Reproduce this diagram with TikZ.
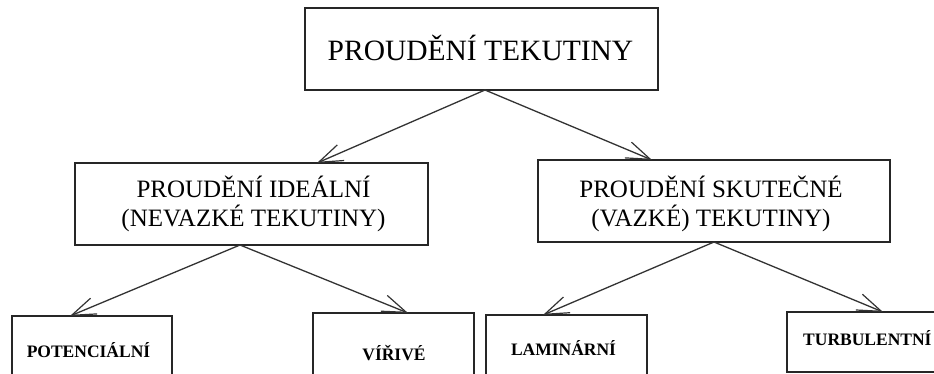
\documentclass[tikz,border=0pt]{standalone}
\usepackage{fontspec}
\setmainfont{Liberation Serif}
\usetikzlibrary{arrows.meta}
\begin{document}
\begin{tikzpicture}[x=1pt,y=-1pt,
  box/.style={draw=black!85,line width=1.3pt,rectangle,anchor=north west,inner sep=0pt,outer sep=0pt},
  conn/.style={draw=black!80,line width=1.3pt,-{Straight Barb[length=24pt,width=17pt,line width=1.2pt]}},
  bigtxt/.style={font=\fontsize{29.5}{30}\selectfont,anchor=base,inner sep=0pt},
  midtxt/.style={font=\fontsize{25}{29.5}\selectfont,anchor=base,align=center,inner sep=0pt},
  smalltxt/.style={font=\bfseries\fontsize{17.5}{18}\selectfont,anchor=base,inner sep=0pt}]
\useasboundingbox (0,0) rectangle (934,373);
\clip (0,0) rectangle (934,373);
\fill[white] (0,0) rectangle (934,373);
% boxes
\node[box,minimum width=353pt,minimum height=82pt] (top) at (305,8) {};
\node[box,minimum width=353pt,minimum height=82pt] (lmid) at (75,163) {};
\node[box,minimum width=352pt,minimum height=82pt] (rmid) at (538,160) {};
\node[box,minimum width=160pt,minimum height=80pt] (pot) at (12,316) {};
\node[box,minimum width=161pt,minimum height=80pt] (vir) at (313,313) {};
\node[box,minimum width=161pt,minimum height=80pt] (lam) at (486,315) {};
\node[box,minimum width=193pt,minimum height=60pt] (turb) at (787,312) {};
% texts
\node[bigtxt] (ttop) at (480.5,60) {PROUDĚNÍ TEKUTINY};
\node[midtxt] (tlmid) at (253.5,226.5) {PROUDĚNÍ IDEÁLNÍ\\(NEVAZKÉ TEKUTINY)};
\node[midtxt] (trmid) at (711,226.5) {PROUDĚNÍ SKUTEČNÉ\\(VAZKÉ) TEKUTINY)};
\node[smalltxt] (tpot) at (88.5,357) {POTENCIÁLNÍ};
\node[smalltxt] (tvir) at (394,360) {VÍŘIVÉ};
\node[smalltxt] (tlam) at (563.5,355) {LAMINÁRNÍ};
\node[smalltxt,anchor=base west] (tturb) at (803,345) {TURBULENTNÍ};
% connectors
\draw[conn] ([xshift=3.5pt]top.south) -- ([xshift=65.5pt]lmid.north);
\draw[conn] ([xshift=3.5pt]top.south) -- ([xshift=-62pt]rmid.north);
\draw[conn] ([xshift=-11.5pt]lmid.south) -- ([xshift=-22pt]pot.north);
\draw[conn] ([xshift=-11.5pt]lmid.south) -- ([xshift=14.5pt]vir.north);
\draw[conn] (rmid.south) -- ([xshift=-23.5pt]lam.north);
\draw[conn] (rmid.south) -- ([xshift=-0.5pt]turb.north);
\end{tikzpicture}
\end{document}
